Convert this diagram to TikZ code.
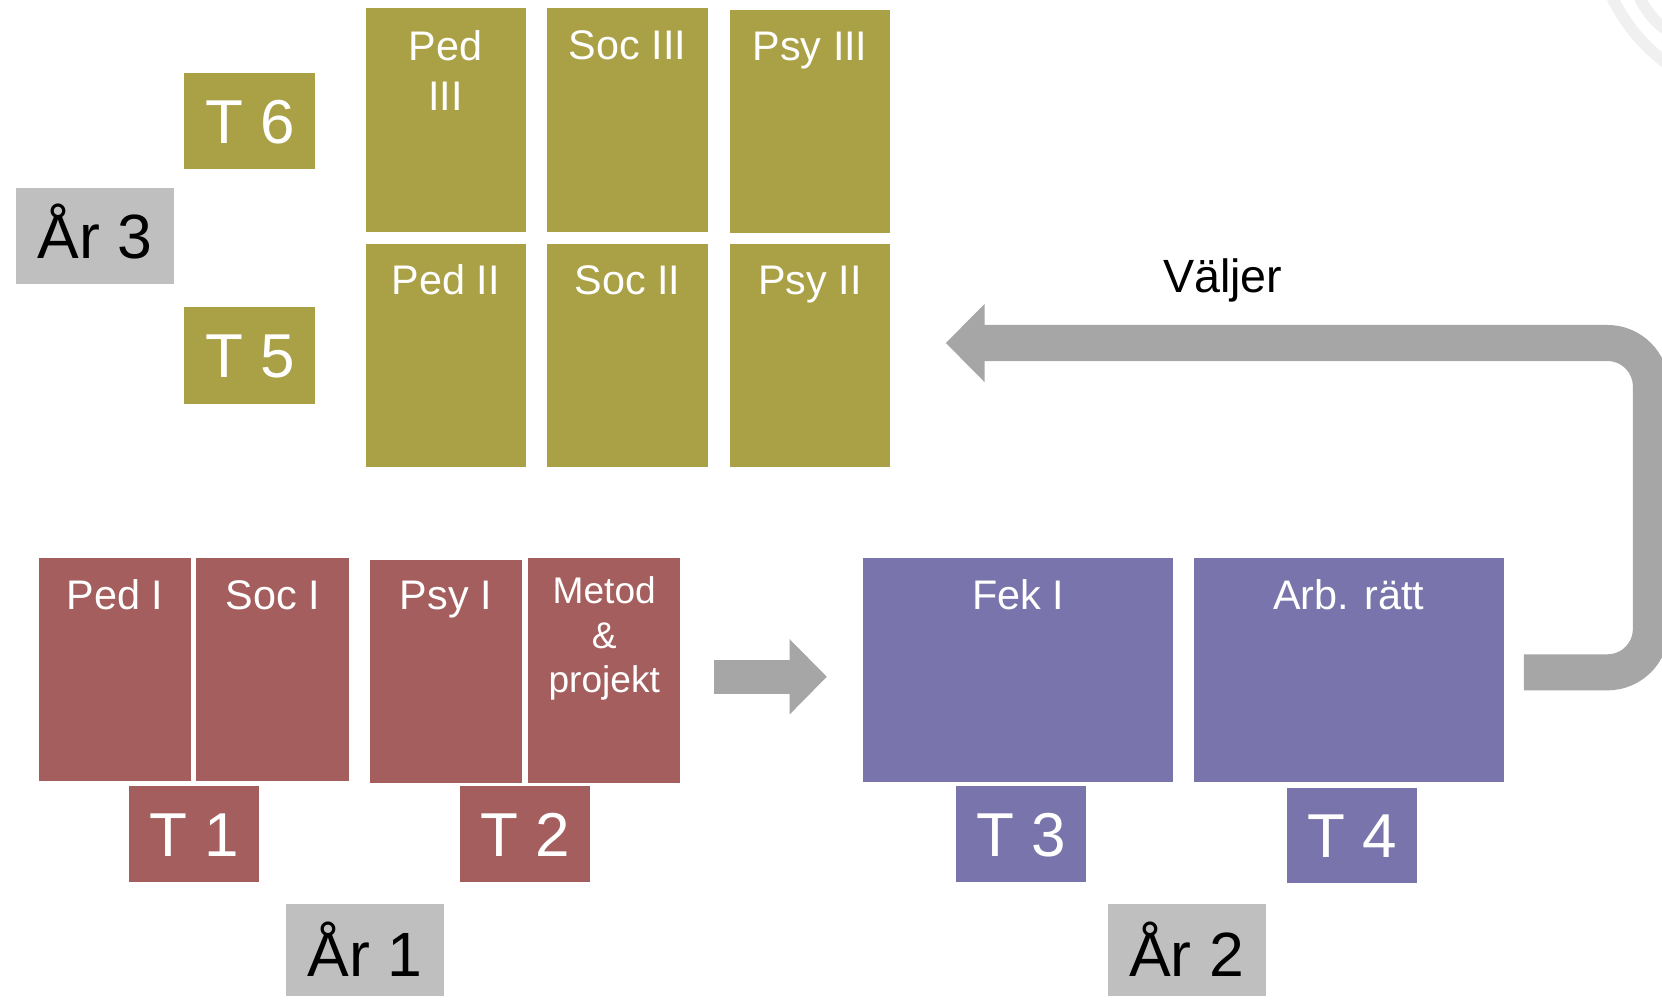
\documentclass[tikz,border=0pt]{standalone}
\usepackage{fontspec}
\setmainfont{Liberation Sans}
\definecolor{oliveC}{RGB}{170,161,71}
\definecolor{redC}{RGB}{164,94,94}
\definecolor{purpleC}{RGB}{121,116,172}
\definecolor{labelC}{RGB}{191,191,191}
\definecolor{arrowC}{RGB}{166,166,166}
\definecolor{bgarcC}{RGB}{240,240,240}
\begin{document}
\begin{tikzpicture}[x=1pt,y=-1pt,
  cell/.style={anchor=north west, inner sep=0pt, outer sep=0pt, draw=none},
  lbl/.style={inner sep=0pt, text=white, font=\fontsize{39}{47}\selectfont},
  smalllbl/.style={inner sep=0pt, text=white, align=center, font=\fontsize{35}{42}\selectfont},
  tlbl/.style={cell, text=white, font=\fontsize{58.5}{60}\selectfont, text height=42pt, text depth=0pt},
  arlbl/.style={cell, fill=labelC, text=black, font=\fontsize{59}{60}\selectfont, text height=42pt, text depth=0pt},
  bgarc/.style={draw=bgarcC, line width=11pt},
  flow/.style={draw=arrowC, line width=34pt}
]
\useasboundingbox (0,0) rectangle (1568,942.5);
\clip (0,0) rectangle (1568,942.5);

% faint background arcs
\draw[bgarc] (1521,-2) .. controls (1535,25) and (1550,43) .. (1575,62);
\draw[bgarc] (1547,-2) .. controls (1553,10) and (1560,20) .. (1575,30);

% Year 3 (olive)
\node[cell, fill=oliveC, minimum width=151pt, minimum height=211.5pt] (pedIII) at (345,7.5) {};
\node[cell, fill=oliveC, minimum width=152pt, minimum height=211.5pt] (socIII) at (516,7.5) {};
\node[cell, fill=oliveC, minimum width=151.5pt, minimum height=210.5pt] (psyIII) at (688.5,9.5) {};
\node[cell, fill=oliveC, minimum width=151pt, minimum height=210pt] (pedII) at (345,230.5) {};
\node[cell, fill=oliveC, minimum width=152pt, minimum height=210pt] (socII) at (516,230.5) {};
\node[cell, fill=oliveC, minimum width=151.5pt, minimum height=210pt] (psyII) at (688.5,230.5) {};

\node[lbl, anchor=north, align=center] (pedIIIt) at ([yshift=-21pt]pedIII.north) {Ped\\III};
\node[lbl, anchor=base] (socIIIt) at ([yshift=-49pt]socIII.north) {Soc III};
\node[lbl, anchor=base] (psyIIIt) at ([yshift=-47.5pt]psyIII.north) {Psy III};
\node[lbl, anchor=base] (pedIIt) at ([yshift=-47.5pt]pedII.north) {Ped II};
\node[lbl, anchor=base] (socIIt) at ([yshift=-47.5pt]socII.north) {Soc II};
\node[lbl, anchor=base] (psyIIt) at ([yshift=-47.5pt]psyII.north) {Psy II};

\node[tlbl, fill=oliveC, minimum width=123.6pt, minimum height=91pt] (t6) at (174,68.7) {T 6};
\node[tlbl, fill=oliveC, minimum width=123.6pt, minimum height=91pt] (t5) at (174,290) {T 5};
\node[arlbl, minimum width=148.7pt, minimum height=91pt] (ar3) at (15,177) {År 3};

% Year 1 (red)
\node[cell, fill=redC, minimum width=143.3pt, minimum height=211pt] (pedI) at (36.7,526) {};
\node[cell, fill=redC, minimum width=144.5pt, minimum height=211pt] (socI) at (185,526) {};
\node[cell, fill=redC, minimum width=143pt, minimum height=210.5pt] (psyI) at (349,528) {};
\node[cell, fill=redC, minimum width=143.1pt, minimum height=212.5pt] (metod) at (498.5,526) {};

\node[lbl, anchor=base] (pedIt) at ([yshift=-49pt]pedI.north) {Ped I};
\node[lbl, anchor=base] (socIt) at ([yshift=-49pt]socI.north) {Soc I};
\node[lbl, anchor=base] (psyIt) at ([yshift=-47pt]psyI.north) {Psy I};
\node[smalllbl, anchor=north] (metodt) at ([yshift=-18pt]metod.north) {Metod\\\&\\projekt};

\node[tlbl, fill=redC, minimum width=123pt, minimum height=90.5pt] (t1) at (121.6,741.5) {T 1};
\node[tlbl, fill=redC, minimum width=122.9pt, minimum height=90.5pt] (t2) at (433.7,741.5) {T 2};
\node[arlbl, text height=49pt, minimum width=148.6pt, minimum height=87pt] (ar1) at (270,853) {År 1};

% Year 2 (purple)
\node[cell, fill=purpleC, minimum width=292.5pt, minimum height=211.5pt] (fekI) at (814.5,526) {};
\node[cell, fill=purpleC, minimum width=293pt, minimum height=211.5pt] (arb) at (1126,526) {};
\node[lbl, anchor=base] (fekIt) at ([yshift=-49pt]fekI.north) {Fek I};
\node[lbl, anchor=base] (arbt) at ([yshift=-49pt]arb.north) {Arb. rätt};

\node[tlbl, fill=purpleC, minimum width=123pt, minimum height=90.5pt] (t3) at (902,741.5) {T 3};
\node[tlbl, fill=purpleC, minimum width=123pt, minimum height=90.5pt] (t4) at (1214,743) {T 4};
\node[arlbl, text height=49pt, minimum width=149pt, minimum height=87pt] (ar2) at (1045,853) {År 2};

% small arrow year 1 -> year 2
\coordinate (sA) at (674,638.5);
\coordinate (sB) at (745,638.5);
\coordinate (sT) at (780,638.5);
\draw[draw=arrowC, line width=32.5pt] (sA) -- ([xshift=1pt]sB);
\fill[arrowC] ([yshift=35.5pt]sB) -- (sT) -- ([yshift=-35.5pt]sB) -- cycle;

% big bent arrow year 2 -> year 3
\coordinate (bA) at (1437.7,634.3);
\coordinate (bC1) at (1557.5,634.3);
\coordinate (bC2) at (1557.5,323.6);
\coordinate (bB) at (929,323.6);
\coordinate (bT) at (892.4,323.6);
\draw[flow, rounded corners=41pt] (bA) -- (bC1) -- (bC2) -- ([xshift=-1pt]bB);
\fill[arrowC] ([yshift=37pt]bB) -- (bT) -- ([yshift=-37pt]bB) -- cycle;

\node[inner sep=0pt, anchor=base, font=\fontsize{44}{50}\selectfont] (valjer) at (1153.5,276) {Väljer};
\end{tikzpicture}
\end{document}
